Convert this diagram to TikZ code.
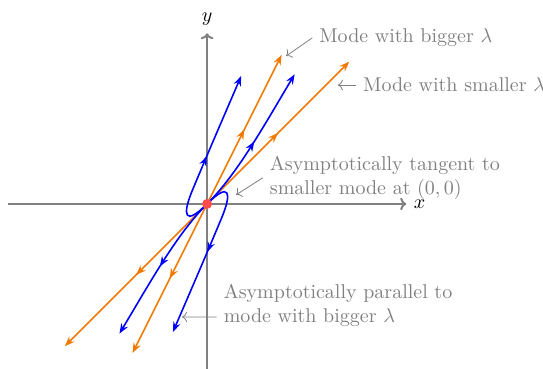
\documentclass[tikz,border=0pt]{standalone}
\usepackage{amsmath}
\usetikzlibrary{arrows.meta,decorations.markings}
\tikzset{
  ax/.style={gray,line width=1pt,-{To[length=3pt]}},
  midtip/.style={postaction={decorate},
    decoration={markings,mark=at position 0.5 with {\arrow{Stealth[length=5pt]}}}},
  eig/.style={orange!95!black,thick,-{Stealth[length=5pt]},midtip},
  traj/.style={blue,thick,-{Stealth[length=5pt]},midtip},
  note/.style={gray,align=left,anchor=west},
  notearr/.style={gray,thin,-{To[length=2.5pt]}}
}

\begin{document}
\begin{tikzpicture}
  \useasboundingbox (-3.64,-2.9) rectangle (5.905,3.585);
  % axes
  \draw[ax] (-3.5,0) -- (3.5,0) node[right,black] (xl) {$x$};
  \draw[ax] (0,-2.9) -- (0,3) node[above,black] (yl) {$y$};
  \coordinate (O) at (0,0);
  % eigen-directions
  \coordinate (b1) at (1.31,2.62);  \coordinate (b2) at (-1.31,-2.62);
  \coordinate (s1) at (2.5,2.5);    \coordinate (s2) at (-2.5,-2.5);
  \draw[eig] (O) -- (b1); \draw[eig] (O) -- (b2);
  \draw[eig] (O) -- (s1); \draw[eig] (O) -- (s2);
  % trajectories
  \draw[traj] (O) .. controls (-0.39,-0.39) and (-0.45,-0.215) .. (-0.25,0.26)
                  .. controls (0.03,0.93) and (0.32,1.6) .. (0.6,2.25);
  \draw[traj] (O) .. controls (0.39,0.39) and (0.45,0.215) .. (0.25,-0.26)
                  .. controls (-0.03,-0.93) and (-0.32,-1.6) .. (-0.6,-2.25);
  \draw[traj] (O) .. controls (0.527,0.527) and (0.967,1.318) .. (1.54,2.28);
  \draw[traj] (O) .. controls (-0.527,-0.527) and (-0.967,-1.318) .. (-1.54,-2.28);
  \node[circle,fill=red!70,inner sep=0pt,minimum size=5pt] (o) at (O) {};
  % notes
  \node[note] (n1) at (1.85,2.92) {Mode with bigger $\lambda$};
  \node[note] (n2) at (2.62,2.09) {Mode with smaller $\lambda$};
  \node[note] (n3) at (0.98,0.46) {Asymptotically tangent to\\smaller mode at $(0,0)$};
  \node[note] (n4) at (0.17,-1.775) {Asymptotically parallel to\\mode with bigger $\lambda$};
  \coordinate (t1) at (1.39,2.60);
  \coordinate (t2) at (2.30,2.09);
  \coordinate (t3) at (0.51,0.16);
  \coordinate (t4) at (-0.44,-1.986);
  \draw[notearr] (n1.west) -- (t1);
  \draw[notearr] (n2.west) -- (t2);
  \draw[notearr] (n3.west) -- (t3);
  \draw[notearr] ([yshift=-6pt]n4.west) -- (t4);
\end{tikzpicture}
\end{document}
